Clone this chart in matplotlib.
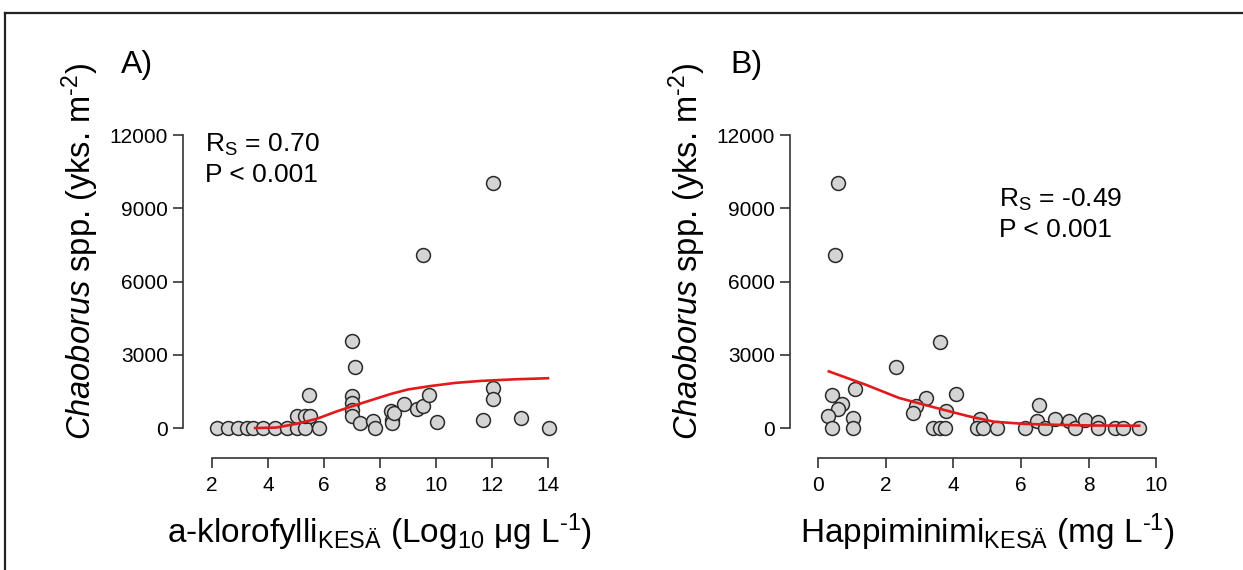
import matplotlib
matplotlib.use("Agg")
import matplotlib.pyplot as plt
from matplotlib.lines import Line2D

plt.rcParams['font.family'] = ['Liberation Sans', 'DejaVu Sans']
plt.rcParams['mathtext.fontset'] = 'custom'
plt.rcParams['mathtext.rm'] = 'Liberation Sans'
plt.rcParams['mathtext.it'] = 'Liberation Sans:italic'

W, H = 1243, 570

# panel A: chlorophyll-a vs Chaoborus density
chl_x = [2.17, 2.58, 2.94, 3.26, 3.48, 3.83, 4.25, 4.67, 5.02, 5.32, 5.83,
         5.02, 5.32, 5.50, 5.48,
         6.99, 7.11, 6.99, 6.99, 6.99, 6.99,
         7.29, 7.76, 7.81,
         8.38, 8.42, 8.42, 8.50,
         8.86, 9.31, 9.52, 9.75, 10.02,
         9.52, 12.05,
         11.69, 12.02, 12.02, 13.04, 14.04]
chl_y = [0, 0, 0, 0, 0, 0, 0, 0, 0, 0, 0,
         475, 500, 475, 1360,
         3545, 2495, 1295, 1020, 750, 480,
         205, 270, 0,
         680, 340, 200, 600,
         995, 780, 885, 1362, 231,
         7091, 10050,
         313, 1636, 1186, 409, 0]
chl_fit_x = [3.54, 4.3, 5.0, 5.75, 6.45, 7.05, 7.9, 8.4, 9.0, 9.8, 10.7, 11.6, 12.8, 14.0]
chl_fit_y = [0, 20, 170, 380, 680, 910, 1220, 1400, 1580, 1720, 1850, 1930, 1995, 2040]

# panel B: summer oxygen minimum vs Chaoborus density
oxy_x = [0.40, 0.70, 0.60, 0.30, 0.40, 1.03, 1.03, 1.09,
         0.60, 0.51, 2.30, 3.61,
         3.20, 2.89, 2.80, 4.08, 3.79, 3.39, 3.61, 3.76,
         4.79, 4.69, 4.89, 5.29,
         6.12, 6.55, 6.47, 6.70, 7.01, 7.41, 7.60, 7.90, 8.29, 8.29, 8.79, 9.01, 9.48]
oxy_y = [1362, 994, 777, 475, 0, 409, 0, 1608,
         10050, 7091, 2500, 3532,
         1227, 885, 614, 1391, 680, 0, 0, 0,
         368, 0, 0, 0,
         0, 926, 270, 0, 368, 270, 0, 340, 231, 0, 0, 0, 0]
oxy_fit_x = [0.32, 1.4, 2.4, 3.4, 4.4, 5.2, 6.1, 7.1, 8.1, 9.5]
oxy_fit_y = [2320, 1780, 1230, 860, 500, 260, 170, 130, 105, 95]

y_ticks = [0, 3000, 6000, 9000, 12000]
chl_ticks = [2, 4, 6, 8, 10, 12, 14]
oxy_ticks = [0, 2, 4, 6, 8, 10]

ylabel = "$\\it{Chaoborus}$ spp. (yks. m$^{\u20102}$)"
chl_label = "a-klorofylli$_{\\mathrm{KESÄ}}$ (Log$_{10}$ μg L$^{\u20101}$)"
oxy_label = "Happiminimi$_{\\mathrm{KESÄ}}$ (mg L$^{\u20101}$)"

fig = plt.figure(figsize=(W / 100, H / 100), dpi=100)


def px_axes(left, right, bottom, top):
    return fig.add_axes([left / W, 1 - bottom / H, (right - left) / W, (bottom - top) / H])


def style(ax, xlim, ylim, xticks):
    ax.set_xlim(*xlim)
    ax.set_ylim(*ylim)
    for s in ['top', 'right']:
        ax.spines[s].set_visible(False)
    for s in ['left', 'bottom']:
        ax.spines[s].set_color('#333333')
        ax.spines[s].set_linewidth(1.2)
    ax.spines['left'].set_bounds(y_ticks[0], y_ticks[-1])
    ax.spines['bottom'].set_bounds(xticks[0], xticks[-1])
    ax.set_xticks(xticks)
    ax.set_yticks(y_ticks)
    ax.tick_params(length=7, width=1.2, color='#333333', labelsize=15, pad=4)
    ax.tick_params(axis='x', pad=6)


def draw(ax, x, y, fx, fy):
    ax.plot(fx, fy, color='#e31a1c', lw=1.9, zorder=3)
    ax.scatter(x, y, s=100, facecolor='#d4d4d4', edgecolor='#2a2a2a', linewidth=1.1, zorder=2)


# A
axA = px_axes(183, 562, 458, 127.7)
style(axA, (2 - 29 / 28, 14.5), (-1227, 12300), chl_ticks)
draw(axA, chl_x, chl_y, chl_fit_x, chl_fit_y)
fig.text(205 / W, 1 - 182 / H, "R$_{\\mathrm{S}}$ = 0.70\nP < 0.001",
         fontsize=19, va='baseline', ha='left', linespacing=1.25)
fig.text(121 / W, 1 - 73 / H, "A)", fontsize=23, va='baseline')
fig.text(380 / W, 1 - 543 / H, chl_label, fontsize=24, ha='center', va='baseline')
fig.text(80 / W, 1 - 252 / H, ylabel, fontsize=23.5, rotation=90, ha='center', va='center')

# B
axB = px_axes(790, 1170, 458, 127.7)
style(axB, (-28 / 33.8, 10.41), (-1227, 12300), oxy_ticks)
draw(axB, oxy_x, oxy_y, oxy_fit_x, oxy_fit_y)
fig.text(999 / W, 1 - 236.7 / H, "R$_{\\mathrm{S}}$ = -0.49\nP < 0.001",
         fontsize=19, va='baseline', ha='left', linespacing=1.25)
fig.text(730 / W, 1 - 73 / H, "B)", fontsize=23, va='baseline')
fig.text(987 / W, 1 - 543 / H, oxy_label, fontsize=24, ha='center', va='baseline')
fig.text(687 / W, 1 - 252 / H, ylabel, fontsize=23.5, rotation=90, ha='center', va='center')

# outer frame (left and top edges visible)
fig.add_artist(Line2D([5 / W, 5 / W], [0, 1 - 12.5 / H], color='#222222', lw=1.6))
fig.add_artist(Line2D([5 / W, 1], [1 - 12.5 / H, 1 - 12.5 / H], color='#222222', lw=1.6))

fig.savefig("out.png", dpi=100)
